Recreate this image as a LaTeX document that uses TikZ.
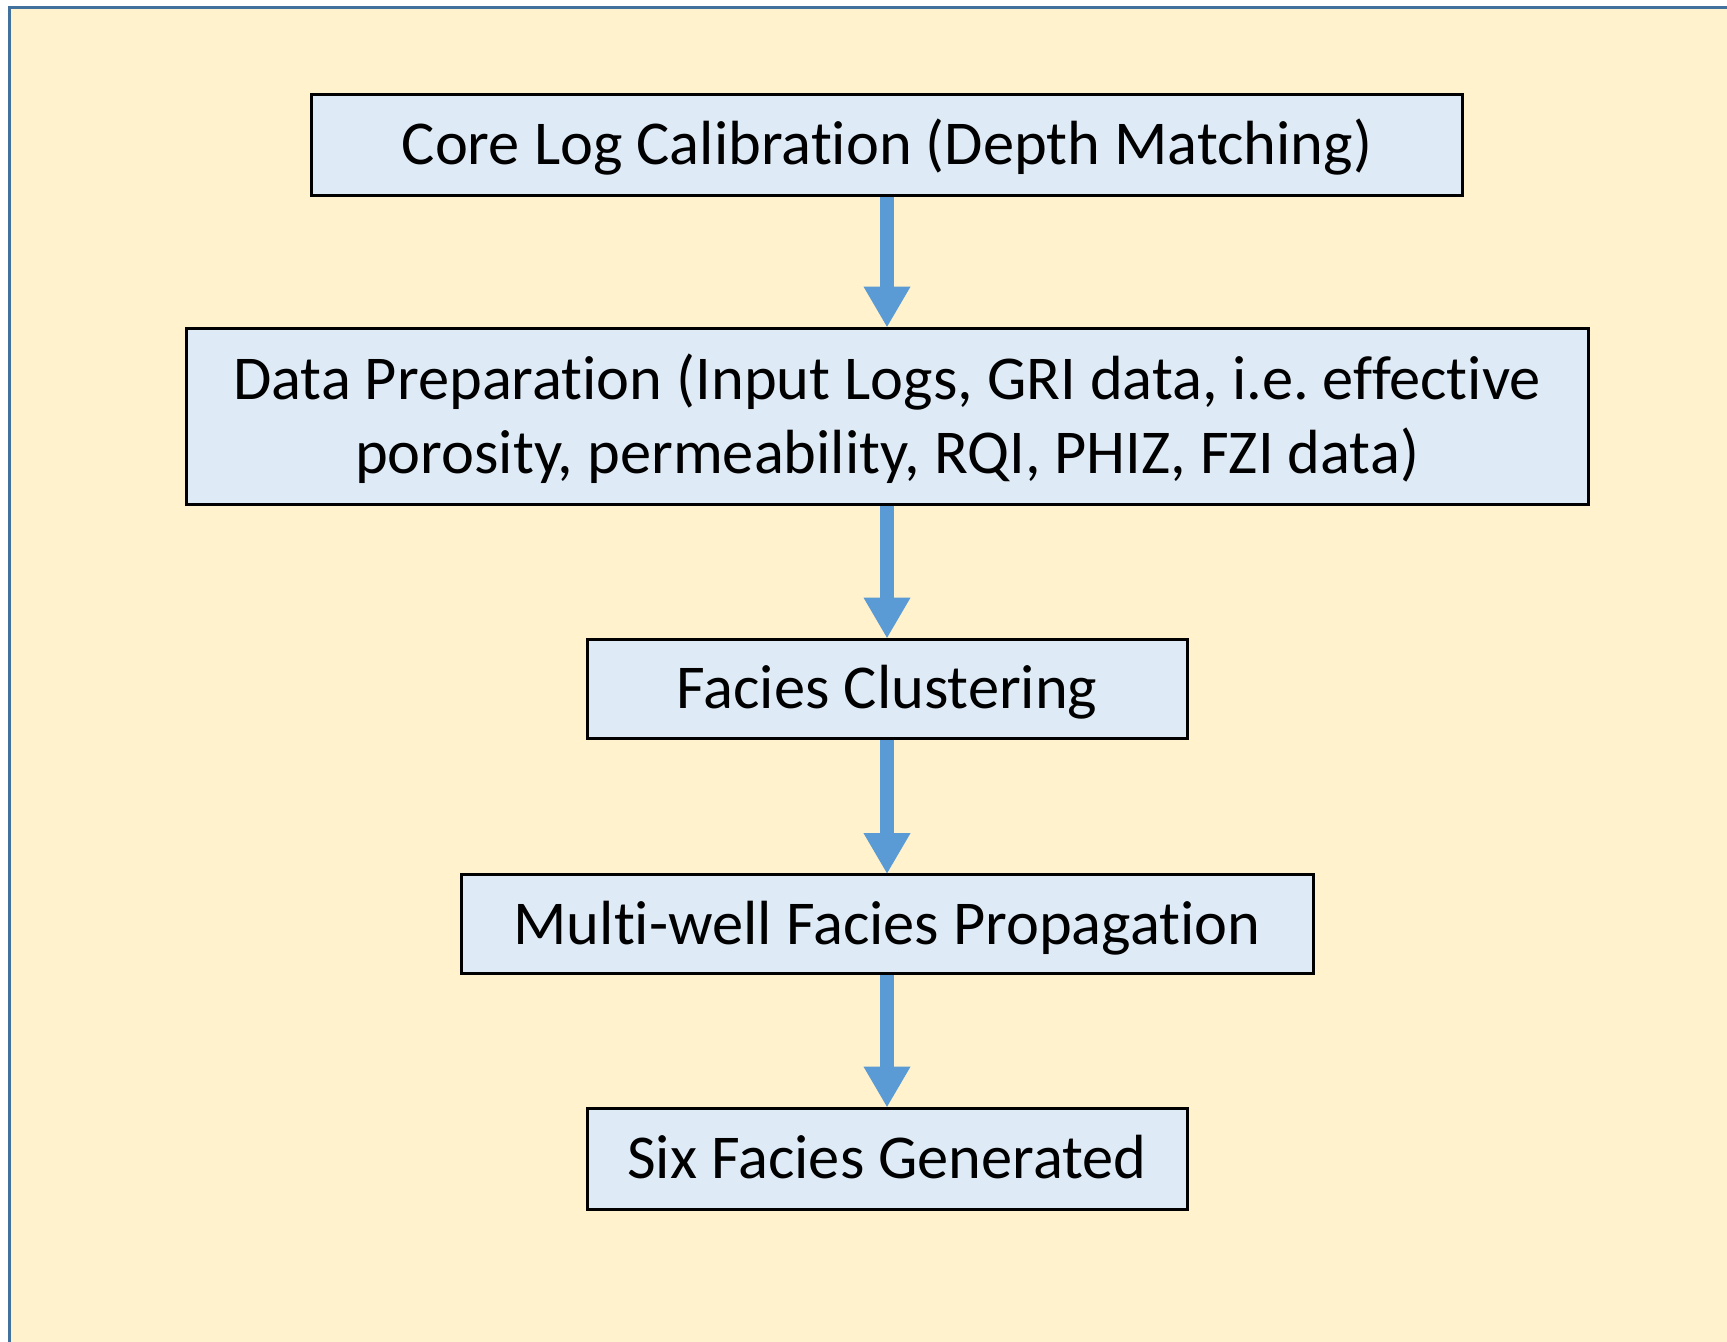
\documentclass[tikz,border=0pt]{standalone}
\usepackage{fontspec}
\setmainfont{Carlito}[Ligatures=NoCommon]
\usetikzlibrary{arrows.meta}
\definecolor{bgfill}{HTML}{FFF2CC}
\definecolor{frameblue}{HTML}{41719C}
\definecolor{boxfill}{HTML}{DEEBF7}
\definecolor{arrowblue}{HTML}{5B9BD5}
\frenchspacing
\begin{document}
\begin{tikzpicture}[x=0.5pt,y=-0.5pt,
  stepbox/.style={draw=black, line width=1.5pt, fill=boxfill, rectangle,
    inner sep=0pt, font=\fontsize{31.2}{37}\selectfont},
  onebox/.style={stepbox, text height=28.1pt, text depth=8pt},
  flow/.style={draw=arrowblue, line width=7pt,
    -{Triangle[width=22pt,length=20.5pt]}, shorten >=-0.5pt}]
\useasboundingbox (0,0) rectangle (1727,1341);
\clip (0,0) rectangle (1727,1341);
\fill[white] (0,0) rectangle (1727,1341);
\draw[frameblue, fill=bgfill, line width=1.75pt] (9.5,7.5) rectangle (1760,1380);
\node[onebox, minimum width=1151*0.5pt, minimum height=101*0.5pt] (a) at (887,144.5) {Core Log Calibration (Depth Matching)};
\node[stepbox, minimum width=1402*0.5pt, minimum height=176*0.5pt] (b) at (887,416) {\raisebox{-2.65pt}[\height][\depth]{\begin{tabular}{@{}c@{}}Data Preparation (Input Logs, GRI data, i.e. effective\\porosity, permeability, RQI, PHIZ, FZI data)\end{tabular}}};
\node[onebox, minimum width=600*0.5pt, minimum height=99*0.5pt] (c) at (887,688.5) {Facies Clustering};
\node[onebox, minimum width=852*0.5pt, minimum height=99*0.5pt] (d) at (887,924) {Multi-well Facies Propagation};
\node[onebox, minimum width=600*0.5pt, minimum height=101*0.5pt] (e) at (887,1158.5) {Six Facies Generated};
\draw[flow] (a.south) -- (b.north);
\draw[flow] (b.south) -- (c.north);
\draw[flow] (c.south) -- (d.north);
\draw[flow] (d.south) -- (e.north);
\end{tikzpicture}
\end{document}
